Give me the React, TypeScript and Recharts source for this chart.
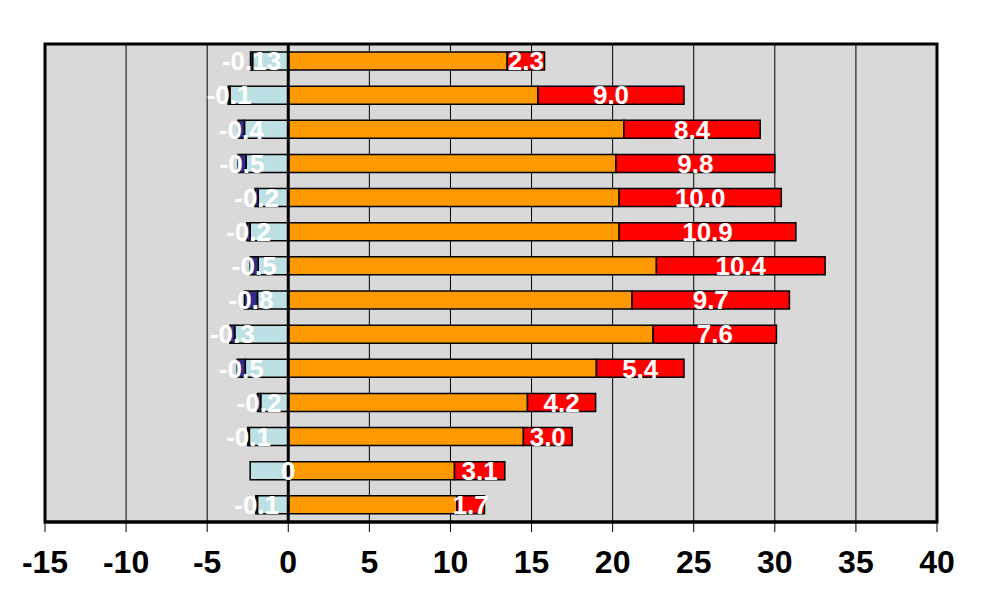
import { Bar, BarChart, CartesianGrid, LabelList, ReferenceArea, ReferenceLine, XAxis, YAxis } from "recharts";

const categories = ["1", "2", "3", "4", "5", "6", "7", "8", "9", "10", "11", "12", "13", "14"];
const baseNeg = [-2.2, -3.6, -2.7, -2.6, -1.85, -2.35, -1.85, -1.9, -3.3, -2.65, -1.7, -2.4, -2.35, -1.9];
const changeNeg = [-0.13, -0.1, -0.4, -0.5, -0.2, -0.2, -0.5, -0.8, -0.3, -0.5, -0.2, -0.1, 0, -0.1];
const basePos = [13.5, 15.4, 20.7, 20.2, 20.4, 20.4, 22.7, 21.2, 22.5, 19.0, 14.75, 14.5, 10.25, 10.4];
const changePos = [2.3, 9.0, 8.4, 9.8, 10.0, 10.9, 10.4, 9.7, 7.6, 5.4, 4.2, 3.0, 3.1, 1.7];
const xTicks = [-15, -10, -5, 0, 5, 10, 15, 20, 25, 30, 35, 40];

const data = categories.map((c, i) => ({
  name: c,
  baseNeg: baseNeg[i],
  changeNeg: changeNeg[i],
  basePos: basePos[i],
  changePos: changePos[i],
}));

const font = "'Liberation Sans', Arial, sans-serif";
const labelStyle = { fill: "#fff", fontSize: 26, fontWeight: 700, fontFamily: font };

// zero-width bars get no label, so the "0" is drawn at the start of the orange bar
function ZeroLabel(props: any) {
  const { x, y, height, index } = props;
  if (changeNeg[index] !== 0) return null;
  return (
    <text x={x} y={y + height / 2} dy="0.36em" textAnchor="middle" style={labelStyle}>
      0
    </text>
  );
}

export default function App() {
  return (
    <div style={{ position: "absolute", left: 0, top: 0 }}>
      <BarChart
        width={983}
        height={614}
        data={data}
        layout="vertical"
        stackOffset="sign"
        barSize={18}
        margin={{ top: 44, right: 46, bottom: 42, left: 45 }}
      >
        <CartesianGrid fill="#d9d9d9" stroke="#000" strokeWidth={1} horizontal={false} />
        <XAxis
          type="number"
          domain={[-15, 40]}
          ticks={xTicks}
          height={50}
          interval={0}
          tickSize={10}
          tickMargin={18}
          axisLine={{ stroke: "#000", strokeWidth: 3 }}
          tickLine={{ stroke: "#000", strokeWidth: 1 }}
          tick={{ fill: "#000", fontSize: 32, fontWeight: 700, fontFamily: font }}
        />
        <YAxis type="category" dataKey="name" hide />
        <Bar dataKey="baseNeg" stackId="s" fill="#bce0e4" stroke="#000" strokeWidth={1.5} isAnimationActive={false} />
        <Bar dataKey="changeNeg" stackId="s" fill="#2e2e8a" stroke="#000" strokeWidth={1.5} isAnimationActive={false}>
          <LabelList dataKey="changeNeg" position="center" style={labelStyle} formatter={(v: any) => String(v)} />
        </Bar>
        <Bar dataKey="basePos" stackId="s" fill="#ff9900" stroke="#000" strokeWidth={1.5} isAnimationActive={false}>
          <LabelList dataKey="basePos" content={ZeroLabel} />
        </Bar>
        <Bar dataKey="changePos" stackId="s" fill="#ff0000" stroke="#000" strokeWidth={1.5} isAnimationActive={false}>
          <LabelList dataKey="changePos" position="center" style={labelStyle} formatter={(v: any) => Number(v).toFixed(1)} />
        </Bar>
        <ReferenceLine x={0} stroke="#000" strokeWidth={3} />
        <ReferenceArea x1={-15} x2={40} fill="none" stroke="#000" strokeWidth={3} />
      </BarChart>
    </div>
  );
}
